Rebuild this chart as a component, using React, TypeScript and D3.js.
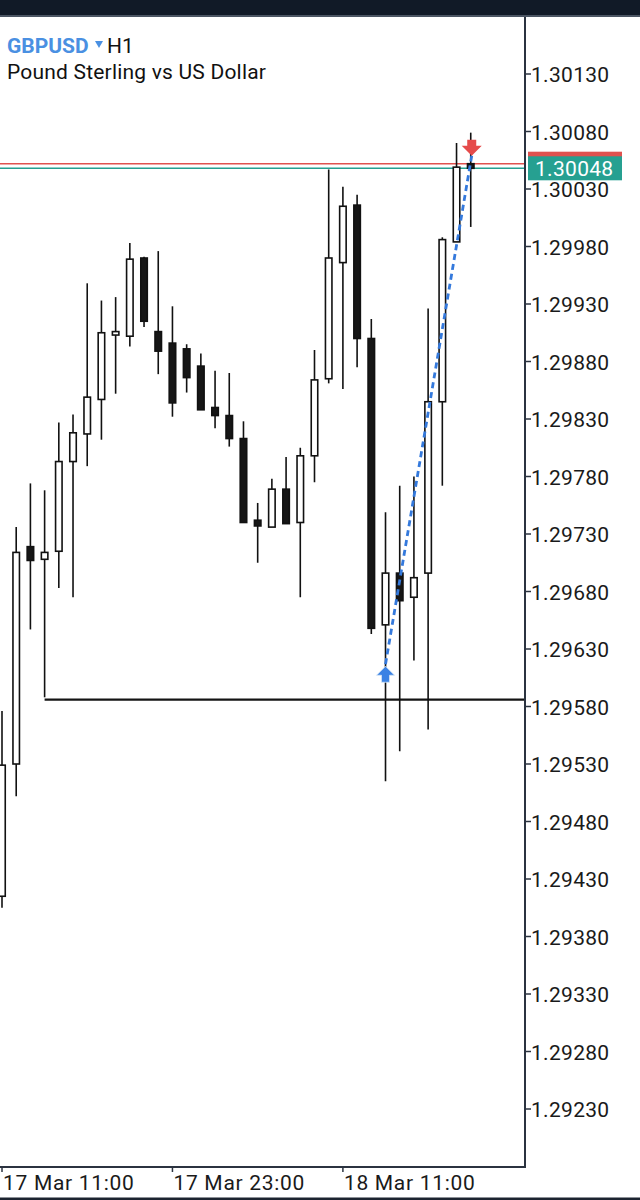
import React from "react";
import * as d3 from "d3";

// ---- data ----
const startTime = new Date(2025, 2, 17, 11, 0);
const opens = [1.29415, 1.2953, 1.29719, 1.29708, 1.29715, 1.29793, 1.29817, 1.29847, 1.29903, 1.29902, 1.2997, 1.29906, 1.29896, 1.29891, 1.29876, 1.2984, 1.29833, 1.29813, 1.29742, 1.29736, 1.29769, 1.2974, 1.29798, 1.29865, 1.29966, 1.30016, 1.299, 1.29651, 1.29696, 1.29675, 1.29696, 1.29845, 1.29984, 1.30052];
const highs = [1.29576, 1.29736, 1.29774, 1.29768, 1.29827, 1.29834, 1.29948, 1.29933, 1.29936, 1.29983, 1.29971, 1.29976, 1.29928, 1.29895, 1.29887, 1.29872, 1.2987, 1.29828, 1.29757, 1.29778, 1.29797, 1.29805, 1.2989, 1.30047, 1.30032, 1.30025, 1.29917, 1.29749, 1.29772, 1.2978, 1.29926, 1.29988, 1.3007, 1.30079];
const lows = [1.29405, 1.29502, 1.29647, 1.29588, 1.29683, 1.29675, 1.29789, 1.29812, 1.29852, 1.29893, 1.2991, 1.29869, 1.29832, 1.29853, 1.29838, 1.29822, 1.29806, 1.2974, 1.29705, 1.29736, 1.29739, 1.29675, 1.29775, 1.29861, 1.29856, 1.29875, 1.29643, 1.29515, 1.29541, 1.2962, 1.2956, 1.29772, 1.29984, 1.29997];
const closes = [1.29529, 1.29714, 1.29707, 1.29714, 1.29793, 1.29818, 1.29849, 1.29905, 1.29906, 1.29969, 1.29915, 1.29889, 1.29844, 1.29866, 1.29838, 1.29833, 1.29813, 1.2974, 1.29737, 1.29769, 1.29739, 1.29798, 1.29864, 1.2997, 1.30015, 1.299, 1.29648, 1.29696, 1.29672, 1.29692, 1.29845, 1.29986, 1.30049, 1.30048];

const yTicks = [1.3013, 1.3008, 1.3003, 1.2998, 1.2993, 1.2988, 1.2983, 1.2978, 1.2973, 1.2968, 1.2963, 1.2958, 1.2953, 1.2948, 1.2943, 1.2938, 1.2933, 1.2928, 1.2923];
const xTickHours = [0, 12, 24];

const askPrice = 1.30052;
const bidPrice = 1.30048;
const levelPrice = 1.29586;
const levelStartIndex = 3;
const buyIndex = 27;
const buyPrice = 1.29615;
const sellIndex = 33;
const sellPrice = 1.30059;

const symbol = "GBPUSD";
const timeframe = "H1";
const description = "Pound Sterling vs US Dollar";

// ---- layout ----
const W = 640;
const H = 1200;
const plotRight = 525;
const plotTop = 17;
const plotBottom = 1167;

const hour = 3600 * 1000;
const timeAt = (i: number) => new Date(startTime.getTime() + i * hour);

const x = d3.scaleTime().domain([timeAt(0), timeAt(24)]).range([2, 342.9]);
const y = d3.scaleLinear().domain([1.2923, 1.3013]).range([1109, 74]);
const fmtTime = d3.timeFormat("%d %b %H:%M");
const fmtPrice = d3.format(".5f");

const FONT = "Roboto, 'Noto Sans', sans-serif";

export default function App() {
  const candles = opens.map((o, i) => ({ o, h: highs[i], l: lows[i], c: closes[i], t: timeAt(i) }));
  const bodyW = 6.5;
  const bx = x(timeAt(buyIndex));
  const by = y(buyPrice);
  const sx = x(timeAt(sellIndex)) + 1;
  const sy = y(sellPrice);
  const line = d3.line<[number, number]>();

  const upArrow = (cx: number, ty: number) =>
    `M${cx},${ty} L${cx + 9},${ty + 9} L${cx + 4},${ty + 9} L${cx + 4},${ty + 16} L${cx - 4},${ty + 16} L${cx - 4},${ty + 9} L${cx - 9},${ty + 9} Z`;
  const downArrow = (cx: number, by2: number) =>
    `M${cx},${by2} L${cx + 10},${by2 - 10} L${cx + 4.5},${by2 - 10} L${cx + 4.5},${by2 - 16} L${cx - 4.5},${by2 - 16} L${cx - 4.5},${by2 - 10} L${cx - 10},${by2 - 10} Z`;

  return (
    <svg width={W} height={H} style={{ position: "absolute", left: 0, top: 0, background: "#fff" }} fontFamily={FONT}>
      <defs>
        <clipPath id="plot">
          <rect x={0} y={plotTop} width={plotRight - 1} height={plotBottom - plotTop} />
        </clipPath>
      </defs>
      <rect x={0} y={0} width={W} height={H} fill="#fff" />
      {/* top bar */}
      <rect x={0} y={0} width={W} height={15} fill="#111a27" />
      <rect x={0} y={15} width={W} height={2} fill="#4b5563" />
      {/* bottom bar */}
      <rect x={0} y={1197.5} width={W} height={3} fill="#1c2430" />

      <g clipPath="url(#plot)">
        {/* bid/ask lines */}
        <line x1={0} x2={plotRight} y1={y(askPrice)} y2={y(askPrice)} stroke="#e0524f" strokeWidth={1.6} />
        <line x1={0} x2={plotRight} y1={y(bidPrice)} y2={y(bidPrice)} stroke="#26a091" strokeWidth={1.6} />
        {/* horizontal level */}
        <line x1={x(timeAt(levelStartIndex))} x2={plotRight} y1={y(levelPrice)} y2={y(levelPrice)} stroke="#141414" strokeWidth={2.2} />
        {/* candles */}
        {candles.map((d, i) => {
          const cx = x(d.t);
          const bull = d.c >= d.o;
          const top = y(Math.max(d.o, d.c));
          const bot = y(Math.min(d.o, d.c));
          return (
            <g key={i}>
              <line x1={cx} x2={cx} y1={y(d.h)} y2={y(d.l)} stroke="#111" strokeWidth={1.6} />
              <rect
                x={cx - bodyW / 2}
                y={top}
                width={bodyW}
                height={Math.max(bot - top, 1.5)}
                fill={bull ? "#fff" : "#161616"}
                stroke="#111"
                strokeWidth={1.6}
              />
            </g>
          );
        })}
        {/* trade line */}
        <path d={line([[bx, by - 2], [sx, sy]]) || ""} stroke="#3479dc" strokeWidth={2.8} strokeDasharray="6 4" fill="none" />
        <path d={upArrow(bx, by)} fill="#3a82e4" stroke="#d6e4f5" strokeWidth={0.8} />
        <path d={downArrow(sx, sy)} fill="#e54b4b" />
      </g>

      {/* frame */}
      <line x1={plotRight} x2={plotRight} y1={plotTop} y2={plotBottom + 1} stroke="#2b3340" strokeWidth={2} />
      <line x1={0} x2={plotRight + 1} y1={plotBottom} y2={plotBottom} stroke="#2b3340" strokeWidth={2} />

      {/* y axis */}
      {yTicks.map((t) => (
        <g key={t}>
          <line x1={plotRight} x2={plotRight + 6} y1={y(t)} y2={y(t)} stroke="#2b3340" strokeWidth={1.5} />
          <text x={531} y={y(t) + 8} fontSize={21} fill="#1a1a1a" letterSpacing={0.3}>
            {fmtPrice(t)}
          </text>
        </g>
      ))}

      {/* price labels */}
      <rect x={528} y={y(askPrice) - 12} width={94} height={24} fill="#e0524f" />
      <rect x={528} y={y(bidPrice) - 12} width={94} height={24} fill="#26a091" />
      <text x={535} y={y(bidPrice) + 8} fontSize={21} fill="#fff" letterSpacing={0.3}>
        {fmtPrice(bidPrice)}
      </text>

      {/* x axis */}
      {xTickHours.map((h) => {
        const tx = x(timeAt(h));
        return (
          <g key={h}>
            <line x1={tx} x2={tx} y1={plotBottom} y2={plotBottom + 5} stroke="#2b3340" strokeWidth={1.5} />
            <text x={tx + 1} y={1189.5} fontSize={21} fill="#1a1a1a" letterSpacing={0.7}>
              {fmtTime(timeAt(h))}
            </text>
          </g>
        );
      })}

      {/* title */}
      <text x={7} y={52.5} fontSize={21} fontWeight="bold" fill="#4a90e2">
        {symbol}
      </text>
      <path d="M95,41 L103,41 L99,48 Z" fill="#4a90e2" />
      <text x={107} y={52.5} fontSize={21} fill="#111">
        {timeframe}
      </text>
      <text x={7} y={78.5} fontSize={21} fill="#111" letterSpacing={0.2}>
        {description}
      </text>
    </svg>
  );
}
